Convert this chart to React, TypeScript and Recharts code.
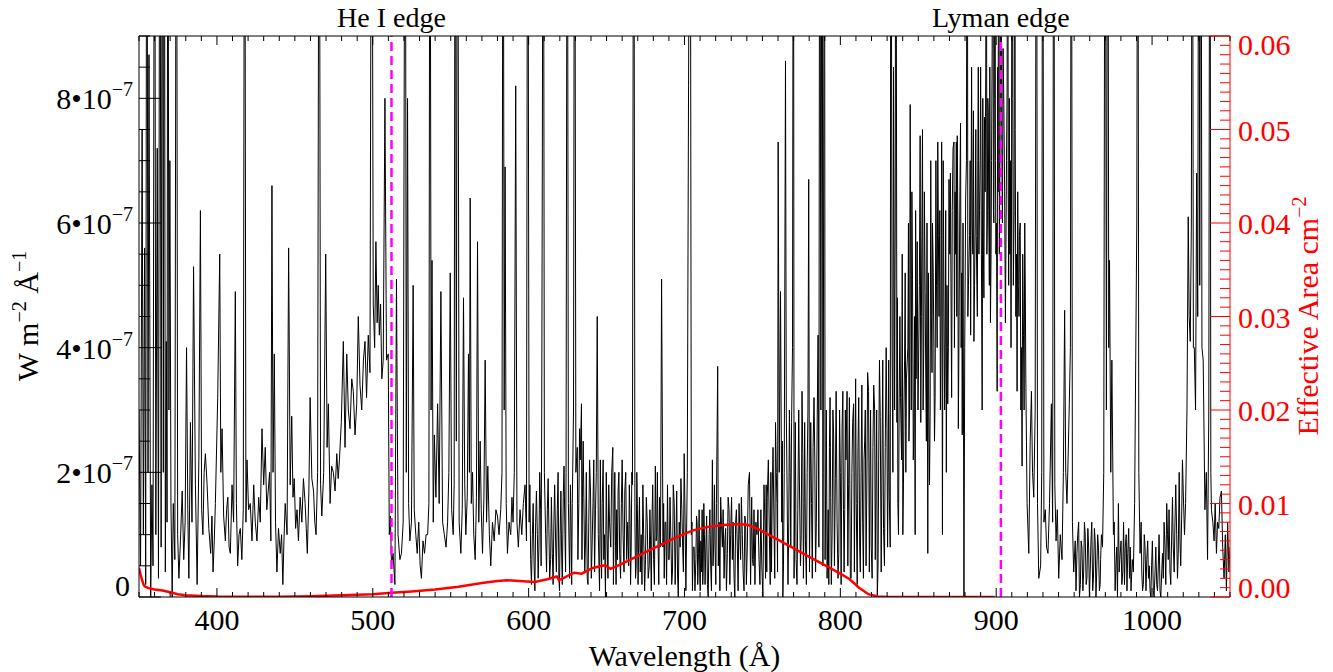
import React from 'react';
import { LineChart, Line, XAxis, YAxis, ReferenceLine } from 'recharts';

const FONT = "'Liberation Serif', 'Times New Roman', Times, serif";
const CHART_W = 1333;
const CHART_H = 672;

// Spectrum: [wavelength (Å), flux in 1e-8 W m^-2 Å^-1]; 150 = off scale (clipped)
const SPEC_350_450: [number, number][] = [
  [350, 30], [351, 5], [352, 75], [352.8, 10], [353.6, 56], [354.3, 2], [355, 150], [355.8, 20], [356.4, 87], [357.5, 0],
  [358.3, 18], [359, 5], [360, 150], [360.8, 10], [361.7, 72], [362.5, 3], [363.4, 150], [364.2, 8], [365, 150], [365.6, 20],
  [366.2, 150], [366.9, 4], [367.5, 41], [368, 12], [368.5, 150], [369.2, 30], [369.8, 70], [370.5, 15], [371.3, 0], [372, 15],
  [373, 6], [374, 150], [374.8, 10], [375.6, 3], [376.6, 9], [377.7, 17], [378.7, 6], [379.6, 12], [380.5, 40], [381.3, 14],
  [382, 3], [383, 28], [384, 12], [385, 53], [386.2, 18], [387.3, 2], [388.4, 22], [389.4, 62], [390.2, 14], [391, 10],
  [391.8, 20], [392.6, 23], [393.7, 18], [394.8, 11], [396, 7], [396.8, 13], [397.5, 4], [398.3, 9], [399, 15], [400.5, 32],
  [401.8, 55], [402.5, 20], [403.3, 27], [404.3, 13], [405.4, 9], [406.2, 14], [407, 16], [407.8, 8], [408.6, 7], [409.7, 18],
  [410.7, 12], [411.8, 49], [412.5, 15], [413.3, 5], [414.2, 10], [415, 11], [416, 6], [416.9, 14], [417.8, 150], [418.6, 12],
  [419.3, 22], [420.3, 14], [421.4, 15], [422.5, 9], [423.6, 18], [424.6, 12], [425.7, 9], [426.8, 16], [427.8, 12], [428.9, 27],
  [430, 18], [431, 24], [432, 14], [432.9, 17], [433.8, 20], [434.6, 9], [435.3, 66], [436, 20], [436.8, 39], [437.6, 12],
  [438.5, 4], [439.5, 11], [440.6, 7], [441.5, 10], [442.3, 2], [443, 9], [443.8, 15], [445, 10], [446, 56], [447, 18],
  [448, 29], [448.8, 16], [449.6, 19],
];

const SPEC_450_550: [number, number][] = [
  [450.5, 11], [451.4, 14], [452.3, 9], [453.4, 16], [454.5, 12], [455.5, 19], [456.6, 15], [457.3, 11], [458, 7], [459, 17],
  [459.8, 32], [460.9, 19], [462, 17], [462.8, 12], [463.6, 10], [464.6, 20], [465.6, 150], [466.5, 18], [467.3, 13], [468.5, 20],
  [469.8, 55], [470.7, 24], [471.5, 31], [472.6, 15], [473.6, 21], [474.7, 20], [475.8, 17], [476.9, 23], [477.8, 19], [478.6, 22],
  [479.8, 28], [481.1, 41], [482.2, 24], [483.3, 39], [484.3, 30], [485.4, 27], [486.5, 35], [487.5, 33], [488.6, 26], [489.7, 31],
  [490.7, 45], [491.8, 34], [492.9, 30], [494, 38], [495, 41], [496, 32], [497.1, 42], [498.2, 36], [499.3, 150], [500.3, 47],
  [501.2, 40], [502, 57], [502.8, 44], [503.5, 50], [504.2, 42], [505, 47], [505.8, 35], [506.7, 38], [507.8, 80], [508.8, 38],
  [509.9, 39], [510.6, 10], [511.3, 13], [512, 5], [513, 7], [514.2, 2], [515.2, 51], [516.2, 10], [517.4, 6], [518.4, 7],
  [519.5, 12], [520.8, 150], [521.5, 20], [522.3, 80], [523, 15], [523.8, 9], [524.8, 12], [525.9, 50], [526.6, 14], [527.6, 10],
  [528.5, 7], [529.5, 12], [530.4, 5], [531.2, 3], [532.2, 9], [533.2, 7], [534.2, 10], [535.2, 10], [536, 15], [536.7, 150],
  [537.4, 30], [538, 54], [538.8, 12], [539.5, 26], [540.5, 16], [541.6, 31], [542.6, 15], [543.7, 49], [544.8, 12], [545.9, 10],
  [547, 8], [548, 12], [548.8, 20], [549.7, 52],
];

const SPEC_550_650: [number, number][] = [
  [550.6, 14], [551.6, 10], [552.2, 18], [552.9, 150], [553.6, 25], [554.4, 150], [555.4, 12], [556.5, 7], [557.4, 14], [558.2, 48],
  [559, 18], [559.7, 10], [560.6, 16], [561.4, 39], [562, 20], [562.5, 64], [563.2, 15], [564, 20], [564.8, 10], [565.7, 6],
  [566.5, 16], [567.2, 57], [568, 12], [568.9, 25], [569.6, 14], [570.4, 7], [571.3, 16], [572.1, 38], [573, 12], [573.8, 21],
  [574.8, 10], [575.7, 5], [576.8, 12], [577.9, 9], [579, 14], [580, 13], [581, 10], [582.1, 14], [582.9, 20], [583.6, 150],
  [584.3, 30], [584.9, 69], [585.6, 15], [586.4, 7], [587.4, 12], [588.5, 10], [589.3, 16], [590, 12], [590.8, 20], [591.7, 82],
  [592.5, 12], [593.4, 8], [594.5, 14], [595.6, 10], [596.6, 15], [597.7, 18], [598.6, 9], [599.4, 150], [600.3, 12], [601.3, 6],
  [602.4, 10], [603.5, 5], [604.5, 12], [605.6, 10], [606.6, 8], [607.7, 14], [608.4, 30], [608.8, 72], [609.4, 150], [610.1, 20],
  [610.9, 10], [612, 14], [613, 11], [614.1, 6], [615.2, 7], [616.2, 12], [617.3, 9], [618.4, 14], [619.4, 3], [620.2, 10],
  [621.1, 8], [622.2, 16], [623.3, 10], [624, 20], [624.8, 150], [625.5, 15], [626.3, 3], [627.2, 12], [628, 15], [628.8, 30],
  [629.5, 150], [630.3, 20], [631.2, 24], [632.2, 15], [633.1, 22], [633.9, 31], [634.6, 18], [635.4, 16], [636.5, 9], [637.6, 3],
  [638.6, 12], [639.7, 17], [640.7, 8], [641.8, 22], [642.9, 14], [644, 45], [644.7, 10], [645.5, 1], [646.3, 12], [647.2, 15],
  [648.2, 6], [649.3, 0],
];

const SPEC_650_750: [number, number][] = [
  [650.3, 10], [651.4, 18], [652.7, 8], [654, 24], [654.8, 12], [655.7, 9], [656.5, 14], [657.4, 17], [658.4, 7], [659.5, 15],
  [660.6, 10], [661.7, 17], [662.9, 6], [664.2, 5], [665, 14], [665.8, 8], [666.6, 18], [667.4, 150], [668.2, 12], [669, 5],
  [669.8, 14], [670.6, 9], [671.6, 4], [672.7, 2], [673.8, 10], [674.9, 5], [676.1, 12], [677.4, 5], [678.2, 9], [679.1, 12],
  [680.2, 6], [681.3, 21], [682.2, 10], [683, 9], [684, 16], [685.3, 51], [686.2, 8], [687, 3], [688, 12], [689.1, 18],
  [690.2, 6], [691.3, 9], [692.3, 4], [693.4, 15], [694.5, 9], [695.5, 4], [696.6, 12], [697.7, 19], [698.8, 8], [699.8, 23],
  [700.9, 1], [701.8, 20], [702.6, 82], [703.6, 150], [704.4, 10], [705.1, 1], [706.2, 8], [707.3, 6], [708.1, 12], [709, 7],
  [709.8, 3], [710.5, 9], [711.3, 14], [712, 4], [712.8, 10], [713.7, 8], [714.7, 2], [715.8, 10], [716.8, 5], [717.9, 22],
  [718.8, 9], [719.6, 8], [720.5, 15], [721.3, 37], [722.2, 12], [723.2, 16], [724.3, 8], [725.4, 3], [726.4, 11], [727.5, 7],
  [728.6, 14], [729.6, 10], [730.7, 6], [731.8, 3], [732.8, 12], [733.9, 8], [735, 15], [736, 6], [737.1, 10], [738.2, 1],
  [739.2, 12], [740.3, 8], [741.7, 20], [743.1, 16], [744.1, 5], [745.2, 2], [746.5, 10], [747.8, 6], [749, 14],
];

const SPEC_750_850: [number, number][] = [
  [750.3, 0], [751.6, 12], [752.4, 18], [753.1, 16], [754.5, 9], [755.4, 20], [756.3, 17], [757.4, 12], [758.4, 28], [759.3, 15],
  [760.1, 73], [760.8, 20], [761.6, 49], [762.4, 12], [763.1, 0], [764, 20], [764.8, 86], [765.8, 18], [766.9, 12], [767.8, 20],
  [768.7, 28], [769.3, 40], [769.9, 150], [770.7, 16], [771.6, 6], [772.7, 14], [773.8, 17], [774.9, 10], [775.9, 23], [776.8, 15],
  [777.6, 9], [778.7, 20], [779.7, 67], [780.6, 18], [781.5, 15], [782.5, 24], [783.6, 22], [784.6, 12], [785.7, 42], [786.8, 150],
  [787.5, 30], [788.3, 150], [789, 20], [789.8, 150], [790.6, 18], [791.5, 3], [792.2, 14], [793, 24], [793.8, 16], [794.7, 10],
  [795.7, 26], [796.8, 19], [797.9, 12], [799, 7], [800, 20], [801.1, 27], [802, 14], [802.8, 14], [803.6, 22], [804.3, 33],
  [805.3, 18], [806.4, 3], [807.4, 20], [808.5, 31], [809.3, 16], [810.2, 15], [811.3, 24], [812.4, 8], [813.3, 20], [814.3, 12],
  [815.2, 22], [816, 30], [817, 18], [818.1, 33], [819, 20], [819.8, 8], [820.9, 24], [822, 30], [822.8, 16], [823.7, 0],
  [824.6, 22], [825.6, 29], [826.6, 18], [827.7, 11], [828.8, 24], [829.9, 27], [830.7, 20], [831.4, 16], [832.4, 150], [833.2, 40],
  [834.1, 85], [834.8, 30], [835.6, 150], [836.3, 28], [836.9, 15], [837.7, 30], [838.6, 32], [839.3, 22], [840.1, 10], [840.8, 30],
  [841.6, 52], [842.4, 35], [843.3, 40], [844, 25], [844.8, 79], [845.5, 30], [846.3, 51], [847.2, 28], [848, 10], [848.6, 35],
  [849.3, 57],
];

const SPEC_850_950: [number, number][] = [
  [850.2, 38], [851.2, 74], [852, 45], [852.7, 75], [853.5, 40], [854.4, 49], [855.2, 25], [856.1, 7], [856.8, 30], [857.6, 29],
  [858.4, 45], [859.1, 60], [860, 40], [860.8, 32], [861.7, 50], [862.5, 73], [863.3, 45], [864.2, 30], [865, 73], [865.5, 10],
  [866.5, 45], [867.2, 38], [868, 20], [868.9, 31], [869.7, 67], [870.6, 68], [871.4, 32], [872.3, 72], [872.9, 73], [873.6, 65],
  [874.4, 73], [875, 74], [875.7, 27], [876.7, 65], [877.5, 40], [878.2, 26], [879.3, 0], [880.4, 64], [881.4, 150], [882.2, 50],
  [882.9, 58], [883.6, 42], [884.2, 85], [885, 55], [885.7, 41], [886.5, 60], [887.2, 58], [887.9, 45], [888.5, 85], [889.3, 62],
  [890, 85], [891, 30], [891.8, 55], [892.5, 77], [893.6, 150], [894.3, 60], [894.9, 78], [895.6, 50], [896.3, 44], [897, 70],
  [897.8, 150], [898.5, 60], [899.1, 150], [899.8, 55], [900.6, 33], [901.2, 65], [901.7, 150], [902.4, 70], [903, 150], [904, 60],
  [904.9, 79], [905.9, 44], [906.6, 70], [907.4, 150], [908, 50], [908.7, 55], [909.5, 40], [910.2, 150], [911, 50], [911.9, 150],
  [912.6, 45], [913.4, 33], [914.2, 50], [914.9, 58], [915.8, 30], [916.6, 21], [917.5, 42], [918.3, 60], [919, 35], [919.8, 15],
  [920.9, 7], [921.8, 25], [922.6, 33], [923.3, 20], [924.1, 16], [925, 30], [925.8, 150], [926.5, 15], [927.3, 3], [928.5, 5],
  [929.2, 20], [929.8, 150], [930.6, 12], [931.5, 14], [932.3, 8], [933.2, 7], [934.2, 15], [935.4, 31], [936.2, 12], [936.9, 150],
  [937.6, 18], [938.4, 9], [939.2, 14], [940.1, 3], [941.1, 10], [942.2, 6], [943.1, 20], [943.9, 46], [944.6, 20], [945.4, 15],
  [946.1, 22], [946.9, 31], [947.6, 40], [948.2, 150], [948.9, 12], [949.7, 4],
];

const SPEC_950_1050: [number, number][] = [
  [950.7, 9], [951.8, 7], [952.9, 12], [954, 2], [955, 8], [956.1, 4], [957.1, 10], [958.2, 3], [959.3, 8], [960.3, 4],
  [961.3, 12], [962.4, 3], [963.5, 9], [964.6, 5], [965.6, 8], [966.7, 2], [967.5, 10], [968.2, 8], [969, 20], [969.9, 150],
  [970.7, 30], [971.6, 150], [972.2, 40], [972.7, 54], [973.5, 20], [974.2, 38], [975.2, 10], [976.3, 1], [977.3, 8], [978.4, 15],
  [979.3, 6], [980.1, 9], [981.2, 4], [982.3, 2], [983.4, 10], [984.4, 7], [985.5, 3], [986.5, 1], [987.3, 6], [988, 4],
  [988.8, 15], [989.5, 38], [990.2, 60], [990.8, 150], [991.5, 20], [992.3, 7], [993.4, 4], [994.4, 2], [995.5, 8], [996.6, 6],
  [997.7, 3], [998.7, 1], [999.7, 5], [1000.8, 1], [1001.9, 4], [1003, 2], [1004, 5], [1005.1, 1], [1006.2, 4], [1007.2, 3],
  [1008.3, 8], [1009.4, 15], [1010.4, 6], [1011.5, 4], [1012.5, 9], [1013.6, 8], [1014.7, 12], [1015.8, 10], [1016.8, 7], [1017.9, 9],
  [1019, 13], [1020, 17], [1020.8, 10], [1021.5, 15], [1022.4, 30], [1023.2, 61], [1023.8, 45], [1024.5, 41], [1025.2, 60], [1025.8, 150],
  [1026.5, 40], [1027.1, 40], [1027.9, 30], [1028.6, 68], [1029.3, 45], [1030, 150], [1030.6, 50], [1031.3, 150], [1032, 40], [1032.8, 38],
  [1033.4, 25], [1033.9, 14], [1034.8, 20], [1035.6, 6], [1036.4, 30], [1037.1, 150], [1037.7, 20], [1038.1, 14], [1039, 12], [1039.8, 9],
  [1040.5, 15], [1041.3, 7], [1042, 12], [1042.8, 11], [1043.6, 16], [1044.5, 17], [1045.3, 8], [1046.2, 3], [1047, 10], [1047.7, 1],
  [1048.5, 12], [1049.3, 4], [1050, 8],
];

// Extra readings in the densely sampled stretches of the spectrum
const SPEC_DENSE_600_760: [number, number][] = [
  [600.8, 18], [601.8, 2], [602.9, 15], [604, 1], [605, 17], [606.1, 3], [607.1, 20], [608, 5], [611.5, 4], [612.5, 19],
  [613.5, 3], [614.6, 16], [615.7, 2], [616.7, 18], [617.8, 4], [618.9, 20], [619.8, 1], [620.7, 17], [621.6, 2], [622.7, 21],
  [623.7, 4], [626.8, 18], [627.6, 2], [631.6, 6], [632.7, 27], [634.2, 6], [635, 25], [636, 4], [637, 20], [638.1, 2],
  [639.1, 22], [640.2, 3], [641.3, 15], [642.3, 4], [643.4, 20], [646, 22], [646.8, 3], [647.8, 22], [648.7, 10], [649.8, 20],
  [650.9, 3], [651.9, 12], [653.3, 20], [654.4, 2], [655.3, 20], [656.1, 2], [657, 6], [657.9, 20], [659, 3], [660, 22],
  [661.2, 4], [662.3, 20], [663.5, 12], [664.6, 18], [665.4, 2], [666.2, 20], [668.6, 3], [669.4, 20], [670.2, 2], [671.1, 16],
  [672.2, 10], [673.3, 18], [674.4, 1], [675.5, 16], [676.7, 3], [677.8, 14], [678.7, 1], [679.6, 18], [680.7, 2], [681.8, 9],
  [682.6, 20], [683.5, 2], [684.6, 8], [686.6, 15], [687.5, 12], [688.5, 2], [689.6, 6], [690.7, 16], [691.8, 2], [692.8, 18],
  [694, 2], [695, 17], [696, 0], [697.2, 8], [698.3, 14], [699.3, 4], [700.4, 12], [704.8, 12], [705.6, 8], [706.7, 1],
  [707.7, 13], [708.5, 2], [709.4, 14], [710.1, 1], [710.9, 4], [711.7, 2], [712.4, 15], [713.2, 2], [714.2, 13], [715.2, 0],
  [716.3, 14], [717.3, 1], [718.3, 5], [719.2, 18], [720.1, 2], [721.7, 5], [722.7, 1], [723.7, 12], [724.8, 14], [725.9, 9],
  [726.9, 1], [728, 16], [729.1, 2], [730.2, 16], [731.2, 12], [732.3, 0], [733.3, 14], [734.4, 1], [735.5, 10], [736.5, 16],
  [737.6, 4], [738.7, 13], [739.7, 2], [740.9, 18], [742.4, 2], [743.6, 6], [744.6, 14], [745.8, 12], [747.1, 14], [748.4, 2],
  [749.6, 5], [751, 18], [752, 3], [752.8, 4], [753.8, 22], [755, 2], [755.8, 4], [756.8, 24], [757.9, 3], [758.9, 20],
  [759.7, 4],
];

const SPEC_DENSE_760_920: [number, number][] = [
  [762.8, 25], [763.5, 5], [765.3, 30], [766.4, 2], [767.3, 30], [768.2, 8], [770.3, 3], [771.1, 28], [772.2, 2], [773.3, 30],
  [774.4, 5], [775.4, 33], [776.3, 3], [777.1, 28], [778.2, 2], [779.2, 30], [780.2, 4], [781, 28], [782, 3], [783.1, 32],
  [784.1, 4], [785.2, 30], [786.2, 8], [788.8, 5], [790.2, 6], [791, 30], [792.6, 2], [793.4, 32], [794.2, 2], [795.2, 30],
  [796.2, 5], [797.3, 33], [798.5, 3], [799.5, 30], [800.5, 2], [801.6, 33], [802.4, 4], [803.2, 30], [804.8, 5], [805.8, 32],
  [806.9, 3], [807.9, 28], [809, 4], [809.8, 35], [810.8, 2], [811.8, 32], [812.8, 4], [813.8, 34], [814.8, 3], [815.6, 25],
  [816.5, 5], [817.5, 36], [818.6, 4], [819.4, 30], [820.4, 3], [821.4, 34], [822.4, 6], [823.3, 30], [824.2, 5], [825.1, 38],
  [826.2, 4], [827.2, 38], [828.3, 5], [829.4, 40], [830.3, 8], [831, 38], [832, 8], [833.7, 20], [835.2, 60], [836.6, 48],
  [837.3, 10], [838.2, 45], [839.7, 55], [840.5, 18], [841.2, 38], [842, 20], [843.7, 60], [844.4, 30], [845.9, 65], [846.8, 22],
  [847.6, 45], [848.3, 62], [849.8, 30], [850.7, 50], [851.6, 28], [852.3, 58], [853.1, 30], [853.9, 65], [854.8, 35], [855.6, 60],
  [856.5, 52], [857.2, 18], [858, 70], [858.8, 36], [859.6, 52], [860.4, 25], [861.3, 70], [862.1, 40], [862.9, 58], [863.8, 62],
  [864.6, 45], [866, 70], [866.9, 30], [867.6, 62], [868.4, 50], [869.3, 40], [870.2, 55], [871, 48], [871.8, 62], [873.2, 40],
  [874, 55], [874.7, 45], [875.4, 60], [876.2, 45], [877.1, 76], [877.9, 52], [878.7, 60], [879.8, 40], [880.9, 70], [881.8, 45],
  [883.3, 70], [884.6, 60], [885.4, 78], [886.1, 50], [886.9, 75], [887.6, 50], [888.2, 70], [888.9, 55], [889.7, 70], [890.5, 55],
  [891.4, 80], [892.1, 48], [892.9, 65], [893.3, 85], [894, 55], [894.6, 80], [895.2, 62], [895.9, 85], [896.7, 55], [897.4, 88],
  [898.2, 62], [898.8, 80], [899.5, 70], [900.2, 60], [900.9, 85], [902, 55], [902.7, 82], [903.5, 75], [904.4, 88], [905.4, 65],
  [906.2, 55], [907, 82], [907.7, 65], [908.4, 80], [909.1, 70], [909.8, 60], [910.6, 80], [911.5, 62], [912.2, 75], [913, 55],
  [913.8, 65], [914.6, 45], [915.4, 60], [916.2, 40], [917, 55], [917.9, 30], [918.7, 48], [919.4, 25],
];

const SPEC_DENSE_950_1020: [number, number][] = [
  [951.2, 1], [952.3, 10], [953.4, 0], [954.5, 9], [955.6, 1], [956.6, 12], [957.7, 2], [958.8, 11], [959.8, 0], [960.8, 9],
  [961.9, 1], [963, 11], [964, 0], [965.1, 10], [966.2, 1], [967, 6], [975.7, 12], [976.8, 5], [977.8, 0], [978.9, 4],
  [980.6, 2], [981.7, 12], [982.8, 8], [983.9, 1], [985, 11], [986, 8], [993, 12], [993.9, 1], [995, 10], [996.1, 1],
  [997.2, 9], [998.2, 5], [999.2, 0], [1000.2, 9], [1001.3, 0], [1002.4, 8], [1003.5, 1], [1004.5, 10], [1005.6, 0], [1006.7, 7],
  [1007.7, 12], [1008.8, 2], [1009.9, 10], [1010.9, 14], [1012, 2], [1013.1, 16], [1014.2, 4], [1015.2, 18], [1016.3, 3], [1017.4, 20],
  [1018.4, 5], [1019.5, 22],
];

// Effective area curve (cm^2)
const AREA_WAVELENGTHS = [350, 351, 352, 353, 354, 356, 360, 365, 370, 375, 380, 390, 400, 420, 440, 460, 480, 500, 512, 525,
  540, 555, 570, 580, 586, 594, 604, 612, 618, 619.5, 622, 629, 634, 641, 649, 652.5, 658, 664, 675, 685,
  695, 705, 715, 725, 735, 741, 748, 758, 769, 780, 790, 800, 806, 812, 818, 824, 830, 899];
const AREA_VALUES = [0.0031, 0.0024, 0.0018, 0.0013, 0.0011, 0.00095, 0.0008, 0.0007, 0.0005, 0.0003, 0.0002, 0.0001, 0.00005, 0.00003, 0.00003, 0.00008, 0.00018, 0.0003, 0.00045, 0.0006,
  0.0008, 0.0011, 0.0015, 0.0017, 0.0018, 0.0017, 0.0016, 0.0019, 0.0022, 0.0018, 0.002, 0.0026, 0.0025, 0.0031, 0.0034, 0.003, 0.0034, 0.0039, 0.0048, 0.0056,
  0.0064, 0.0071, 0.0075, 0.0077, 0.0078, 0.0077, 0.0072, 0.0063, 0.0053, 0.0043, 0.0034, 0.0025, 0.0019, 0.001, 0.0003, 0.00005, 0, 0];

const EDGE_NAMES = ['He I edge', 'Lyman edge'];
const EDGE_WAVELENGTHS = [512, 903];

const X_DOMAIN: [number, number] = [350, 1050];
const X_TICK_STEP = 10;
const X_MAJOR_STEP = 100;
const FLUX_DOMAIN: [number, number] = [0, 9e-7];
const FLUX_MINOR_STEP = 0.5e-7;
const FLUX_MAJOR_EVERY = 4; // every 2e-7
const AREA_DOMAIN: [number, number] = [0, 0.06];
const AREA_MINOR_STEP = 0.001;
const AREA_MAJOR_EVERY = 10;
const FLUX_UNIT = 1e-8;

const spectrumData = [
  ...SPEC_350_450, ...SPEC_450_550, ...SPEC_550_650, ...SPEC_650_750,
  ...SPEC_750_850, ...SPEC_850_950, ...SPEC_950_1050,
  ...SPEC_DENSE_600_760, ...SPEC_DENSE_760_920, ...SPEC_DENSE_950_1020,
]
  .slice()
  .sort((a, b) => a[0] - b[0])
  .map(([w, f]) => ({ w, flux: f * FLUX_UNIT }));

const areaData = AREA_WAVELENGTHS.map((w, i) => ({ w, area: AREA_VALUES[i] }));

const xTicks: number[] = [];
for (let v = X_DOMAIN[0]; v <= X_DOMAIN[1]; v += X_TICK_STEP) xTicks.push(v);
const fluxTicks: number[] = [];
for (let i = 0; i <= Math.round(FLUX_DOMAIN[1] / FLUX_MINOR_STEP); i++) fluxTicks.push(i * FLUX_MINOR_STEP);
const areaTicks: number[] = [];
for (let i = 0; i <= Math.round(AREA_DOMAIN[1] / AREA_MINOR_STEP); i++) areaTicks.push(i * AREA_MINOR_STEP);

const LABEL_SIZE = 30;
const SUP_SIZE = 20;
const EDGE_LABEL_SIZE = 28;

const BottomTick = (props: any) => {
  const { x, y, payload } = props;
  const v = Math.round(payload.value);
  const major = v % X_MAJOR_STEP === 0;
  return (
    <g>
      <line x1={x} y1={y} x2={x} y2={y - (major ? 9 : 5)} stroke="#000" strokeWidth={1} />
      {major && (
        <text x={x} y={y + 33} textAnchor="middle" fontFamily={FONT} fontSize={LABEL_SIZE} fill="#000">{v}</text>
      )}
    </g>
  );
};

const TopTick = (props: any) => {
  const { x, y, payload } = props;
  const v = Math.round(payload.value);
  const major = v % X_MAJOR_STEP === 0;
  return <line x1={x} y1={y} x2={x} y2={y + (major ? 9 : 5)} stroke="#000" strokeWidth={1} />;
};

const LeftTick = (props: any) => {
  const { x, y, payload } = props;
  const k = Math.round(payload.value / FLUX_MINOR_STEP);
  const major = k % FLUX_MAJOR_EVERY === 0;
  const mant = k / 2;
  return (
    <g>
      <line x1={x} y1={y} x2={x + (major ? 22 : 11)} y2={y} stroke="#000" strokeWidth={1} />
      {major && k === 0 && (
        <text x={x - 9} y={y - 1} textAnchor="end" fontFamily={FONT} fontSize={LABEL_SIZE} fill="#000">0</text>
      )}
      {major && k > 0 && (
        <text x={x - 6} y={y + 11} textAnchor="end" fontFamily={FONT} fontSize={LABEL_SIZE} fill="#000">
          {`${mant}•10`}
          <tspan dy={-13} fontSize={SUP_SIZE}>−7</tspan>
        </text>
      )}
    </g>
  );
};

const RightTick = (props: any) => {
  const { x, y, payload } = props;
  const k = Math.round(payload.value / AREA_MINOR_STEP);
  const major = k % AREA_MAJOR_EVERY === 0;
  const last = Math.round(AREA_DOMAIN[1] / AREA_MINOR_STEP);
  let ty = y + 11;
  if (k === 0) ty = y + 1;
  if (k === last) ty = y + 19;
  return (
    <g>
      <line x1={x} y1={y} x2={x - (major ? 20 : 10)} y2={y} stroke="#ff0000" strokeWidth={1} />
      {major && (
        <text x={x + 8} y={ty} textAnchor="start" fontFamily={FONT} fontSize={LABEL_SIZE} fill="#ff0000">
          {(k / 1000).toFixed(2)}
        </text>
      )}
    </g>
  );
};

const XTitle = () => (
  <text x={684.5} y={666} textAnchor="middle" fontFamily={FONT} fontSize={LABEL_SIZE} fill="#000">
    Wavelength (Å)
  </text>
);

const LeftTitle = () => (
  <text x={38} y={316} transform="rotate(-90, 38, 316)" textAnchor="middle" fontFamily={FONT} fontSize={LABEL_SIZE} fill="#000">
    W m<tspan dy={-12} fontSize={SUP_SIZE}>−2</tspan>
    <tspan dy={12}> Å</tspan>
    <tspan dy={-12} fontSize={SUP_SIZE}>−1</tspan>
  </text>
);

const RightTitle = () => (
  <text x={1318} y={316} transform="rotate(-90, 1318, 316)" textAnchor="middle" fontFamily={FONT} fontSize={LABEL_SIZE} fill="#ff0000">
    Effective Area cm<tspan dy={-12} fontSize={SUP_SIZE}>−2</tspan>
  </text>
);

const EdgeLabel = (text: string) => (props: any) => {
  const vb = props.viewBox || {};
  return (
    <text x={vb.x} y={(vb.y ?? 36) - 9} textAnchor="middle" fontFamily={FONT} fontSize={EDGE_LABEL_SIZE} fill="#000">
      {text}
    </text>
  );
};

export default function App() {
  return (
    <div style={{ position: 'absolute', left: 0, top: 0, width: CHART_W, height: CHART_H, background: '#fff' }}>
      <LineChart width={CHART_W} height={CHART_H} data={spectrumData} margin={{ top: 0, right: 0, bottom: 0, left: 0 }}>
        <XAxis
          xAxisId="main"
          dataKey="w"
          type="number"
          domain={X_DOMAIN}
          allowDataOverflow
          ticks={xTicks}
          interval={0}
          tickSize={0}
          tickMargin={0}
          tickLine={false}
          tick={<BottomTick />}
          height={75}
          axisLine={{ stroke: '#000', strokeWidth: 1 }}
          label={{ content: () => <XTitle /> }}
        />
        <XAxis
          xAxisId="top"
          dataKey="w"
          type="number"
          orientation="top"
          domain={X_DOMAIN}
          allowDataOverflow
          ticks={xTicks}
          interval={0}
          tickSize={0}
          tickMargin={0}
          tickLine={false}
          tick={<TopTick />}
          height={36}
          axisLine={{ stroke: '#000', strokeWidth: 1 }}
        />
        <YAxis
          yAxisId="left"
          type="number"
          domain={FLUX_DOMAIN}
          allowDataOverflow
          ticks={fluxTicks}
          interval={0}
          tickSize={0}
          tickMargin={0}
          tickLine={false}
          tick={<LeftTick />}
          width={139}
          axisLine={{ stroke: '#000', strokeWidth: 1 }}
          label={{ content: () => <LeftTitle /> }}
        />
        <YAxis
          yAxisId="right"
          orientation="right"
          type="number"
          domain={AREA_DOMAIN}
          allowDataOverflow
          ticks={areaTicks}
          interval={0}
          tickSize={0}
          tickMargin={0}
          tickLine={false}
          tick={<RightTick />}
          width={103}
          axisLine={{ stroke: '#ff0000', strokeWidth: 1 }}
          label={{ content: () => <RightTitle /> }}
        />
        <Line
          xAxisId="main"
          yAxisId="left"
          dataKey="flux"
          type="linear"
          stroke="#000"
          strokeWidth={1}
          dot={false}
          activeDot={false}
          isAnimationActive={false}
        />
        <Line
          xAxisId="main"
          yAxisId="right"
          data={areaData}
          dataKey="area"
          type="linear"
          stroke="#ff0000"
          strokeWidth={2.5}
          dot={false}
          activeDot={false}
          isAnimationActive={false}
        />
        {EDGE_WAVELENGTHS.map((w, i) => (
          <ReferenceLine
            key={EDGE_NAMES[i]}
            xAxisId="main"
            yAxisId="left"
            x={w}
            stroke="#ff00ff"
            strokeWidth={2.5}
            strokeDasharray="9 5"
            label={{ content: EdgeLabel(EDGE_NAMES[i]) }}
          />
        ))}
      </LineChart>
    </div>
  );
}
